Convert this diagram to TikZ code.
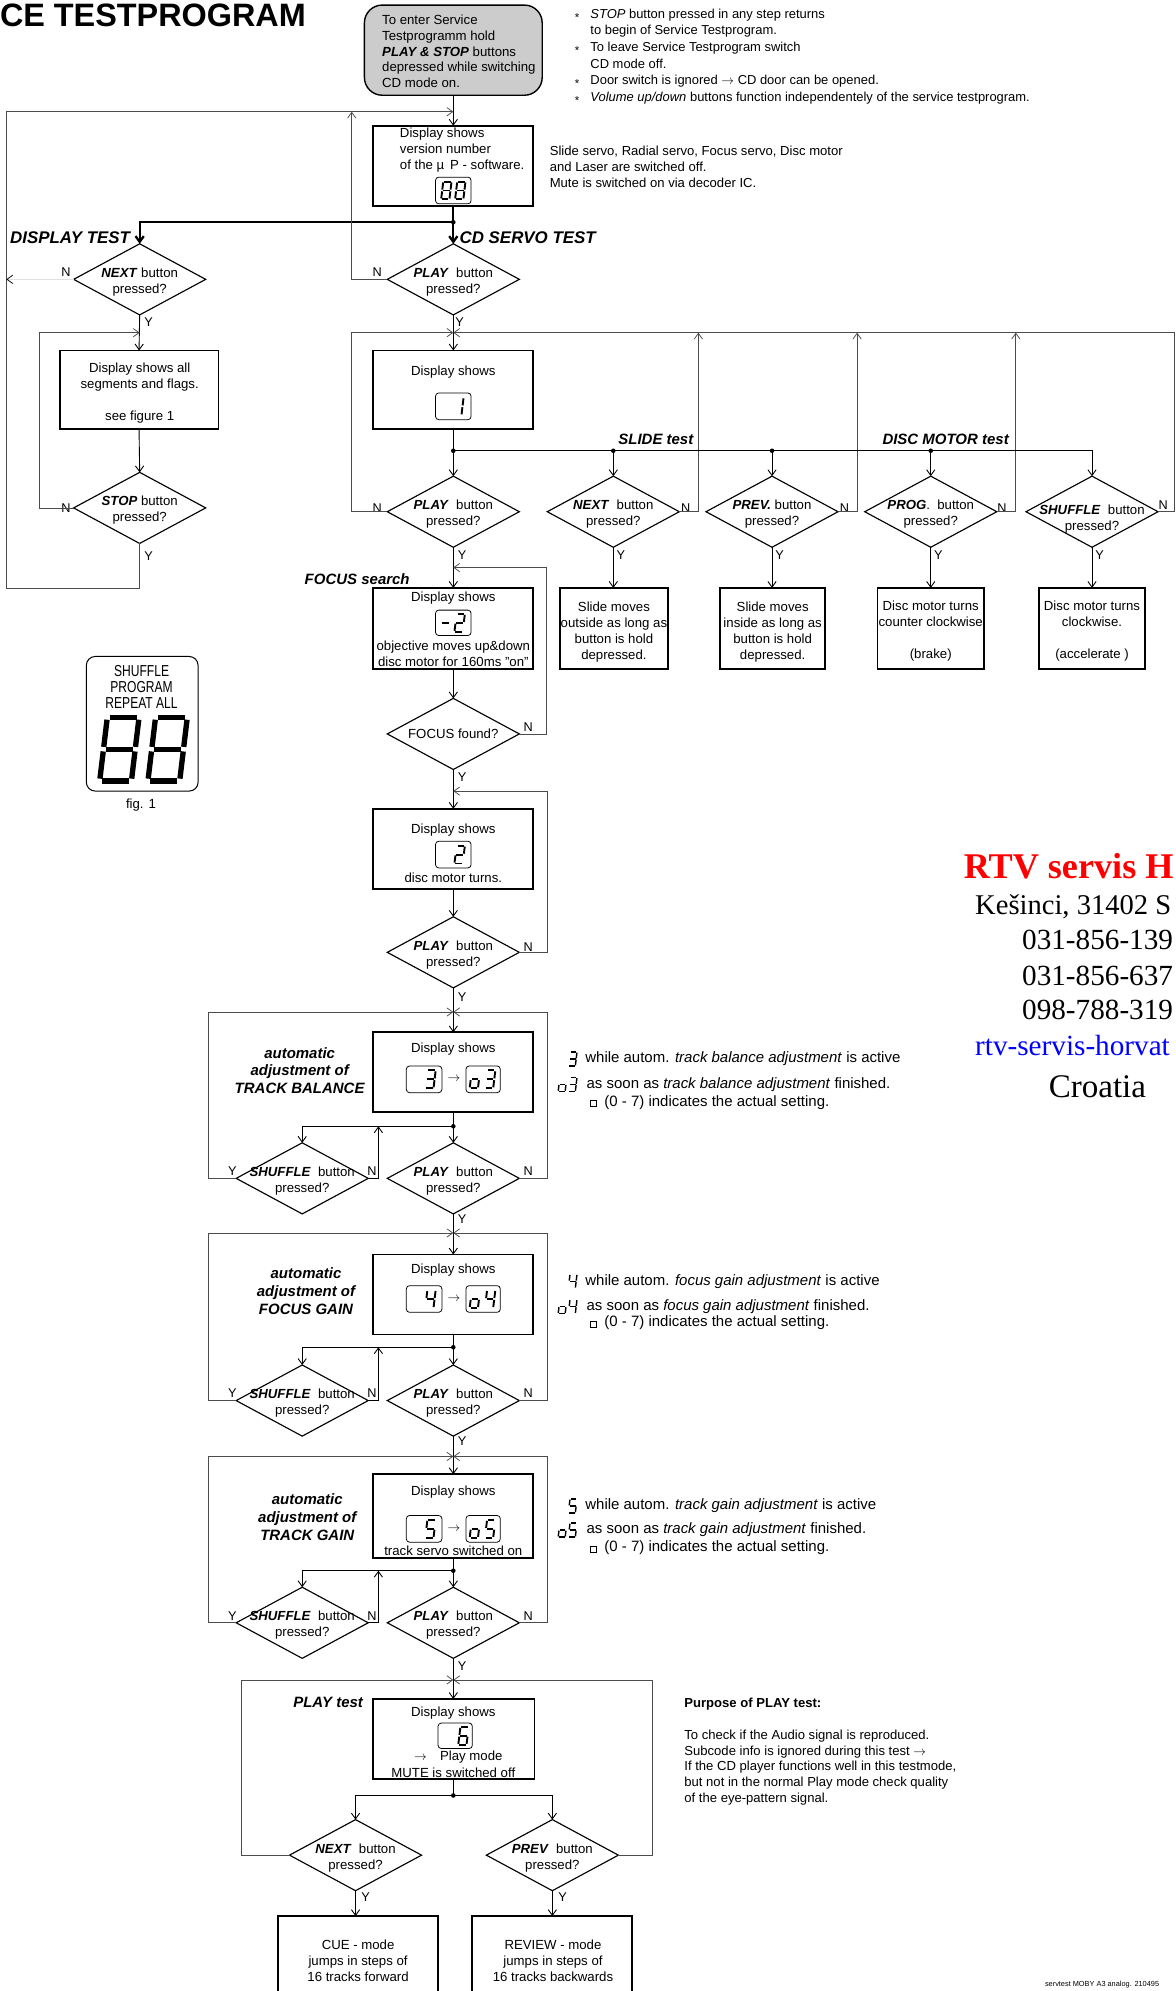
\documentclass[tikz,border=0pt]{standalone}
\usepackage{fontspec}
\setmainfont{Liberation Sans}
\newfontfamily\rtvfont{Liberation Serif}
\newfontfamily\condfont[FakeStretch=0.76]{Liberation Sans}
\usetikzlibrary{shapes.geometric,arrows.meta}
\makeatletter
\newcommand\segs[1]{%
 \in@{a}{#1}\ifin@\draw[segl](-.5,-.5)--(.5,-.5);\fi
 \in@{b}{#1}\ifin@\draw[segl](.5,-.5)--(.5,0);\fi
 \in@{c}{#1}\ifin@\draw[segl](.5,0)--(.5,.5);\fi
 \in@{d}{#1}\ifin@\draw[segl](-.5,.5)--(.5,.5);\fi
 \in@{e}{#1}\ifin@\draw[segl](-.5,0)--(-.5,.5);\fi
 \in@{f}{#1}\ifin@\draw[segl](-.5,-.5)--(-.5,0);\fi
 \in@{g}{#1}\ifin@\draw[segl](-.5,0)--(.5,0);\fi}
\makeatother
% [style]{x}{y}{w}{h}{slant}{segments}
\newcommand\dg[7][segA]{\begin{scope}[cm={#4,0,#6,#5,(#2,#3)},#1]\segs{#7}\end{scope}}
\newcommand\bi[1]{\textbf{\textit{#1}}}
\tikzset{
 segA/.style={segl/.style={line width=1.5pt,shorten <=0.7pt,shorten >=0.7pt}},
 segS/.style={segl/.style={line width=1.1pt,shorten <=0.5pt,shorten >=0.5pt}},
 segB/.style={segl/.style={line width=4.2pt,shorten <=1.8pt,shorten >=1.8pt}},
}
\begin{document}
\begin{tikzpicture}[x=1pt,y=-1pt,
  >={Straight Barb[length=4.5pt,width=6.5pt]},
  every node/.style={inner sep=0pt,outer sep=0pt},
  font=\fontsize{10.4}{12.6}\selectfont,
  box/.style={draw,line width=1.4pt,rectangle},
  dia/.style={diamond,draw,line width=0.9pt,minimum width=104pt,minimum height=56pt},
  dtxt/.style={align=center,yshift=-2pt},
  dbox/.style={draw,line width=0.6pt,rounded corners=2.5pt},
  flow/.style={line width=0.7pt},
  ret/.style={line width=0.6pt,draw=black!70},
  thk/.style={line width=1.8pt},
  dot/.style={circle,fill,minimum size=3.6pt},
  yn/.style={font=\fontsize{10}{12}\selectfont},
  lab/.style={font=\fontsize{11.8}{14}\selectfont\bfseries\itshape},
  big/.style={font=\fontsize{13.3}{15}\selectfont\bfseries\itshape},
  note/.style={font=\fontsize{11.8}{14}\selectfont,anchor=west},
  arr/.style={font=\fontsize{10}{10}\selectfont},
]
\useasboundingbox (0,0) rectangle (926,1568);

% ---------- title and notes ----------
\node[anchor=base west,font=\fontsize{25.5}{28}\selectfont\bfseries] (title) at (0,21) {CE TESTPROGRAM};

\node[box,minimum width=140,minimum height=71,rounded corners=14pt,fill=black!20,line width=1.1pt] (start) at (357,39.5) {};
\node[anchor=west,align=left,font=\fontsize{10.4}{12.3}\selectfont] (startt) at (301,40.5)
 {To enter Service\\Testprogramm hold\\\bi{PLAY \& STOP} buttons\\depressed while switching\\CD mode on.};

\node[anchor=west,align=left,font=\fontsize{10.2}{13.1}\selectfont] (topnotes) at (465,44.5)
 {\textit{STOP} button pressed in any step returns\\to begin of Service Testprogram.\\To leave Service Testprogram switch\\CD mode off.\\Door switch is ignored \(\rightarrow\) CD door can be opened.\\\textit{Volume up/down} buttons function independentely of the service testprogram.};
\node[font=\fontsize{9}{9}\selectfont] (bu1) at (454.5,14) {*};
\node[font=\fontsize{9}{9}\selectfont] (bu2) at (454.5,40) {*};
\node[font=\fontsize{9}{9}\selectfont] (bu3) at (454.5,66) {*};
\node[font=\fontsize{9}{9}\selectfont] (bu4) at (454.5,79.5) {*};

\node[anchor=west,align=left,font=\fontsize{10.3}{12.5}\selectfont] (servonote) at (433,131.5)
 {Slide servo, Radial servo, Focus servo, Disc motor\\and Laser are switched off.\\Mute is switched on via decoder IC.};

% ---------- version box ----------
\node[box,minimum width=126,minimum height=63] (vbox) at (357,130.5) {};
\node[anchor=west,align=left] (vboxt) at (315,118.5) {Display shows\\version number\\of the µ\, P - software.};
\node[dbox,minimum width=28,minimum height=21] (vdisp) at (357,150) {};
\dg{351.5}{150}{6.5}{14}{1.7}{abcdefg}
\dg{362.5}{150}{6.5}{14}{1.7}{abcdefg}

\coordinate (jTop) at (357,88);
\draw[flow,->] (start.south) -- (vbox.north);

\node[dot] (j0) at (357,175) {};
\draw[thk] (vbox.south) -- (j0.center);

\node[big,anchor=west] (lDisp) at (8,187) {DISPLAY TEST};
\node[big,anchor=west] (lCD) at (362,187) {CD SERVO TEST};

% ---------- diamonds ----------
\node[dia] (dA) at (110,220) {};
\node[dtxt] (tA) at (dA) {\bi{NEXT} button\\pressed?};
\node[dia] (dB) at (110,400) {};
\node[dtxt] (tB) at (dB) {\bi{STOP} button\\pressed?};
\node[dia] (dC) at (357,220) {};
\node[dtxt] (tC) at (dC) {\bi{PLAY}\ \ button\\pressed?};
\node[dia] (dD) at (357,403) {};
\node[dtxt] (tD) at (dD) {\bi{PLAY}\ \ button\\pressed?};
\node[dia] (dE) at (483,403) {};
\node[dtxt] (tE) at (dE) {\bi{NEXT}\ \ button\\pressed?};
\node[dia] (dF) at (608,403) {};
\node[dtxt] (tF) at (dF) {\bi{PREV.} button\\pressed?};
\node[dia] (dG) at (733,403) {};
\node[dtxt] (tG) at (dG) {\bi{PROG}.\ \ button\\pressed?};
\node[dia] (dH) at (860,403) {};
\node[dtxt,yshift=-4pt] (tH) at (dH) {\bi{SHUFFLE}\ \ button\\pressed?};
\node[dia] (dI) at (357,578) {};
\node[dtxt,yshift=2pt] (tI) at (dI) {FOCUS found?};
\node[dia] (dJ) at (357,750) {};
\node[dtxt] (tJ) at (dJ) {\bi{PLAY}\ \ button\\pressed?};
\node[dia] (dK) at (238,928) {};
\node[dtxt] (tK) at (dK) {\bi{SHUFFLE}\ \ button\\pressed?};
\node[dia] (dL) at (357,928) {};
\node[dtxt] (tL) at (dL) {\bi{PLAY}\ \ button\\pressed?};
\node[dia] (dM) at (238,1103) {};
\node[dtxt] (tM) at (dM) {\bi{SHUFFLE}\ \ button\\pressed?};
\node[dia] (dN) at (357,1103) {};
\node[dtxt] (tN) at (dN) {\bi{PLAY}\ \ button\\pressed?};
\node[dia] (dO) at (238,1278) {};
\node[dtxt] (tO) at (dO) {\bi{SHUFFLE}\ \ button\\pressed?};
\node[dia] (dP) at (357,1278) {};
\node[dtxt] (tP) at (dP) {\bi{PLAY}\ \ button\\pressed?};
\node[dia] (dQ) at (280,1461) {};
\node[dtxt] (tQ) at (dQ) {\bi{NEXT}\ \ button\\pressed?};
\node[dia] (dR) at (435,1461) {};
\node[dtxt] (tR) at (dR) {\bi{PREV}\ \ button\\pressed?};

% ---------- Y / N labels ----------
\node[yn] (nA) at (52,214) {N};  \node[yn] (yA) at (117,254) {Y};
\node[yn] (nB) at (52,400) {N};  \node[yn] (yB) at (117,438) {Y};
\node[yn] (nC) at (297,214) {N}; \node[yn] (yC) at (362,254) {Y};
\node[yn] (nD) at (297,400) {N}; \node[yn] (yD) at (364,437) {Y};
\node[yn] (nE) at (540,400) {N}; \node[yn] (yE) at (489,437) {Y};
\node[yn] (nF) at (665,400) {N}; \node[yn] (yF) at (614,437) {Y};
\node[yn] (nG) at (789,400) {N}; \node[yn] (yG) at (739,437) {Y};
\node[yn] (nH) at (916,398) {N}; \node[yn] (yH) at (866,437) {Y};
\node[yn] (nI) at (416,573) {N}; \node[yn] (yI) at (364,612) {Y};
\node[yn] (nJ) at (416,746) {N}; \node[yn] (yJ) at (364,785) {Y};
\node[yn] (yK) at (183,922) {Y}; \node[yn] (nK) at (293,922) {N};
\node[yn] (nL) at (416,922) {N}; \node[yn] (yL) at (364,960) {Y};
\node[yn] (yM) at (183,1097) {Y}; \node[yn] (nM) at (293,1097) {N};
\node[yn] (nN) at (416,1097) {N}; \node[yn] (yN) at (364,1135) {Y};
\node[yn] (yO) at (183,1273) {Y}; \node[yn] (nO) at (293,1273) {N};
\node[yn] (nP) at (416,1273) {N}; \node[yn] (yP) at (364,1312) {Y};
\node[yn] (yQ) at (288,1494) {Y};
\node[yn] (yR) at (443,1494) {Y};

% ---------- boxes ----------
\node[box,minimum width=125,minimum height=62] (bDisp) at (109.5,307) {};
\node[align=center] (bDispt) at (110,309.5) {Display shows all\\segments and flags.\\[12.6pt]see figure 1};

\node[box,minimum width=126,minimum height=62] (bOne) at (357,307) {};
\node (bOnet) at (357,293) {Display shows};
\node[dbox,minimum width=28,minimum height=21] (dispOne) at (357,320) {};
\dg{361}{320}{6.5}{14}{1.7}{bc}

\node[box,minimum width=126,minimum height=64] (bFocus) at (357,495) {};
\node (bFocust) at (357,471) {Display shows};
\node[dbox,minimum width=28,minimum height=20] (dispF) at (357,490.5) {};
\dg{351}{490.5}{6.5}{14}{1.7}{g}
\dg{362}{490.5}{6.5}{14}{1.7}{abged}
\node[align=center] (bFocust2) at (357,515) {objective moves up\&down\\disc motor for 160ms "on"};

\node[box,minimum width=85,minimum height=64] (bNx) at (483.5,495) {};
\node[align=center] (bNxt) at (483.5,498) {Slide moves\\outside as long as\\button is hold\\depressed.};
\node[box,minimum width=83,minimum height=64] (bPv) at (608.5,495) {};
\node[align=center] (bPvt) at (608.5,498) {Slide moves\\inside as long as\\button is hold\\depressed.};
\node[box,minimum width=84,minimum height=64] (bPg) at (733,495) {};
\node[align=center] (bPgt) at (733,497) {Disc motor turns\\counter clockwise\\[12.6pt](brake)};
\node[box,minimum width=84,minimum height=64] (bSh) at (860,495) {};
\node[align=center] (bSht) at (860,497) {Disc motor turns\\clockwise.\\[12.6pt](accelerate )};

\node[box,minimum width=126,minimum height=63] (bTwo) at (357,668.5) {};
\node (bTwot) at (357,653.5) {Display shows};
\node[dbox,minimum width=28,minimum height=21] (dispTwo) at (357,673) {};
\dg{362}{673}{6.5}{14}{1.7}{abged}
\node (bTwot2) at (357,691) {disc motor turns.};

% track balance
\node[box,minimum width=126,minimum height=63] (bTB) at (357,844.5) {};
\node (bTBt) at (357,826) {Display shows};
\node[dbox,minimum width=28,minimum height=21] (dTB1) at (334,850) {};
\node[dbox,minimum width=27,minimum height=21] (dTB2) at (380.5,850) {};
\node[arr] (aTB) at (357.5,850) {\(\rightarrow\)};
\dg{339}{850}{6.5}{14}{1.7}{abgcd}
\dg{374}{850}{6.5}{14}{1.7}{cdeg}
\dg{386}{850}{6.5}{14}{1.7}{abgcd}
\node[lab,align=center] (lTB) at (236,843) {automatic\\adjustment of\\TRACK BALANCE};

% focus gain
\node[box,minimum width=126,minimum height=63] (bFG) at (357,1019.5) {};
\node (bFGt) at (357,1000) {Display shows};
\node[dbox,minimum width=28,minimum height=21] (dFG1) at (334,1023) {};
\node[dbox,minimum width=27,minimum height=21] (dFG2) at (380.5,1023) {};
\node[arr] (aFG) at (357.5,1023) {\(\rightarrow\)};
\dg{339}{1023}{6.5}{14}{1.7}{fgbc}
\dg{374}{1023}{6.5}{14}{1.7}{cdeg}
\dg{386}{1023}{6.5}{14}{1.7}{fgbc}
\node[lab,align=center] (lFG) at (241,1017) {automatic\\adjustment of\\FOCUS GAIN};

% track gain
\node[box,minimum width=126,minimum height=66] (bTG) at (357,1194) {};
\node (bTGt) at (357,1175) {Display shows};
\node[dbox,minimum width=28,minimum height=21] (dTG1) at (334,1204) {};
\node[dbox,minimum width=27,minimum height=21] (dTG2) at (380.5,1204) {};
\node[arr] (aTG) at (357.5,1204) {\(\rightarrow\)};
\dg{339}{1204}{6.5}{14}{1.7}{afgcd}
\dg{374}{1204}{6.5}{14}{1.7}{cdeg}
\dg{386}{1204}{6.5}{14}{1.7}{afgcd}
\node (bTGt2) at (357,1221) {track servo switched on};
\node[lab,align=center] (lTG) at (242,1195) {automatic\\adjustment of\\TRACK GAIN};

% play test
\node[box,minimum width=127,minimum height=63] (bPT) at (357.5,1369.5) {};
\node (bPTt) at (357,1349) {Display shows};
\node[dbox,minimum width=27,minimum height=20] (dPT) at (358.5,1367) {};
\dg{365}{1367}{6.5}{14}{1.7}{afgedc}
\node (bPTt2) at (361,1384) {\(\rightarrow\)\quad Play mode};
\node (bPTt3) at (357,1396) {MUTE is switched off};

\node[box,minimum width=126,minimum height=80] (bCue) at (282,1549) {};
\node[align=center] (bCuet) at (282,1544) {CUE - mode\\jumps in steps of\\16 tracks forward};
\node[box,minimum width=126,minimum height=80] (bRev) at (435,1549) {};
\node[align=center] (bRevt) at (435.5,1544) {REVIEW - mode\\jumps in steps of\\16 tracks backwards};

% ---------- section labels ----------
\node[lab,anchor=west] (lSlide) at (487,346) {SLIDE test};
\node[lab,anchor=west] (lDisc) at (695,346) {DISC MOTOR test};
\node[lab,anchor=west] (lFocus) at (240,456) {FOCUS search};
\node[lab,anchor=west] (lPlay) at (231,1341) {PLAY test};

% ---------- connectors: top ----------
\draw[thk,->] (j0.center) -- (dC.north);
\draw[thk,->] (j0.center) -- (110,175) -- (dA.north);
\draw[ret,->] (dB.south) -- (110,463) -- (5,463) -- (5,88) -- (jTop);
\draw[ret,->] (dC.west) -- (277,220) -- (277,88);
\draw[draw=black!12,line width=0.6pt,-{Straight Barb[length=4.5pt,width=6.5pt,color=black]}] (dA.west) -- (5,220);

% display test
\coordinate (jD) at (110,262);
\draw[flow,->] (dA.south) -- (bDisp.north);
\draw[ret,->] (dB.west) -- (31,400) -- (31,262) -- (jD);
\draw[flow,->] (bDisp.south) -- (dB.north);

% cd servo
\coordinate (jC) at (357,262);
\draw[flow,->] (dC.south) -- (bOne.north);
\draw[ret,->] (dD.west) -- (277,403) -- (277,262) -- (jC);
\draw[ret,->] (dH.east) -- (925,403) -- (925,262) -- (jC);
\draw[ret,->] (dE.east) -- (550,403) -- (550,262);
\draw[ret,->] (dF.east) -- (675,403) -- (675,262);
\draw[ret,->] (dG.east) -- (800,403) -- (800,262);

\node[dot] (r0) at (357,355) {};
\node[dot] (r1) at (483,355) {};
\node[dot] (r2) at (608,355) {};
\node[dot] (r3) at (733,355) {};
\draw[flow] (bOne.south) -- (r0.center);
\draw[flow,->] (r0.center) -- (860,355) -- (dH.north);
\draw[flow,->] (r0.center) -- (dD.north);
\draw[flow,->] (r1.center) -- (dE.north);
\draw[flow,->] (r2.center) -- (dF.north);
\draw[flow,->] (r3.center) -- (dG.north);
\draw[flow,->] (dE.south) -- (dE.south |- bNx.north);
\draw[flow,->] (dF.south) -- (dF.south |- bPv.north);
\draw[flow,->] (dG.south) -- (bPg.north);
\draw[flow,->] (dH.south) -- (bSh.north);

% focus
\coordinate (jF) at (357,447);
\coordinate (jF2) at (357,623);
\draw[flow,->] (dD.south) -- (bFocus.north);
\draw[ret,->] (dI.east) -- (430,578) -- (430,447) -- (jF);
\draw[flow,->] (bFocus.south) -- (dI.north);
\draw[flow,->] (dI.south) -- (bTwo.north);
\draw[ret,->] (dJ.east) -- (431,750) -- (431,623) -- (jF2);
\draw[flow,->] (bTwo.south) -- (dJ.north);
\draw[flow,->] (dJ.south) -- (bTB.north);

% track balance block
\coordinate (jT1) at (357,797);
\draw[ret,->] (dK.west) -- (164,928) -- (164,797) -- (jT1);
\draw[ret,->] (dL.east) -- (431,928) -- (431,797) -- (jT1);
\node[dot] (t1) at (357,887) {};
\draw[flow] (bTB.south) -- (t1.center);
\draw[flow,->] (t1.center) -- (dL.north);
\draw[flow,->] (t1.center) -- (238,887) -- (dK.north);
\draw[flow,->] (dK.east) -- (298,928) -- (298,887);
\draw[flow,->] (dL.south) -- (bFG.north);

% focus gain block
\coordinate (jT2) at (357,971);
\draw[ret,->] (dM.west) -- (164,1103) -- (164,971) -- (jT2);
\draw[ret,->] (dN.east) -- (431,1103) -- (431,971) -- (jT2);
\node[dot] (t2) at (357,1061) {};
\draw[flow] (bFG.south) -- (t2.center);
\draw[flow,->] (t2.center) -- (dN.north);
\draw[flow,->] (t2.center) -- (238,1061) -- (dM.north);
\draw[flow,->] (dM.east) -- (298,1103) -- (298,1061);
\draw[flow,->] (dN.south) -- (bTG.north);

% track gain block
\coordinate (jT3) at (357,1147);
\draw[ret,->] (dO.west) -- (164,1278) -- (164,1147) -- (jT3);
\draw[ret,->] (dP.east) -- (431,1278) -- (431,1147) -- (jT3);
\node[dot] (t3) at (357,1237) {};
\draw[flow] (bTG.south) -- (t3.center);
\draw[flow,->] (t3.center) -- (dP.north);
\draw[flow,->] (t3.center) -- (238,1237) -- (dO.north);
\draw[flow,->] (dO.east) -- (298,1278) -- (298,1237);
\draw[flow,->] (dP.south) -- (dP.south |- bPT.north);

% play test block
\coordinate (jP) at (357,1323);
\draw[ret,->] (dQ.west) -- (190,1461) -- (190,1323) -- (jP);
\draw[ret,->] (dR.east) -- (514,1461) -- (514,1323) -- (jP);
\node[dot] (p1) at (357,1414) {};
\draw[flow] (bPT.south -| p1) -- (p1.center);
\draw[flow,->] (p1.center) -- (280,1414) -- (dQ.north);
\draw[flow,->] (p1.center) -- (435,1414) -- (dR.north);
\draw[flow,->] (dQ.south) -- (dQ.south |- bCue.north);
\draw[flow,->] (dR.south) -- (dR.south |- bRev.north);

% ---------- side notes ----------
\dg[segS]{451}{834}{5.5}{11}{1.3}{abgcd}
\node[note] (sTB1) at (461,834) {while autom. \textit{track balance adjustment} is active};
\dg[segS]{443}{854}{5.5}{11}{1.3}{cdeg}
\dg[segS]{451}{854}{5.5}{11}{1.3}{abgcd}
\node[note] (sTB2) at (462,854) {as soon as \textit{track balance adjustment} finished.};
\node[draw,line width=0.5pt,minimum size=4.5pt] (qTB) at (467,869) {};
\node[note] (sTB3) at (476,868) {(0 - 7) indicates the actual setting.};

\dg[segS]{451}{1009}{5.5}{11}{1.3}{fgbc}
\node[note] (sFG1) at (461,1009) {while autom. \textit{focus gain adjustment} is active};
\dg[segS]{443}{1029}{5.5}{11}{1.3}{cdeg}
\dg[segS]{451}{1029}{5.5}{11}{1.3}{fgbc}
\node[note] (sFG2) at (462,1029) {as soon as \textit{focus gain adjustment} finished.};
\node[draw,line width=0.5pt,minimum size=4.5pt] (qFG) at (467,1043) {};
\node[note] (sFG3) at (476,1042) {(0 - 7) indicates the actual setting.};

\dg[segS]{451}{1186}{5.5}{11}{1.3}{afgcd}
\node[note] (sTG1) at (461,1186) {while autom. \textit{track gain adjustment} is active};
\dg[segS]{443}{1205}{5.5}{11}{1.3}{cdeg}
\dg[segS]{451}{1205}{5.5}{11}{1.3}{afgcd}
\node[note] (sTG2) at (462,1205) {as soon as \textit{track gain adjustment} finished.};
\node[draw,line width=0.5pt,minimum size=4.5pt] (qTG) at (467,1220) {};
\node[note] (sTG3) at (476,1219) {(0 - 7) indicates the actual setting.};

% ---------- purpose ----------
\node[anchor=west,font=\fontsize{10.3}{12.5}\selectfont\bfseries] (purp) at (539,1342) {Purpose of PLAY test:};
\node[anchor=west,align=left,font=\fontsize{10.3}{12.5}\selectfont] (purpt) at (539,1392)
 {To check if the Audio signal is reproduced.\\Subcode info is ignored during this test \(\rightarrow\)\\If the CD player functions well in this testmode,\\but not in the normal Play mode check quality\\of the eye-pattern signal.};
\node[anchor=west,font=\fontsize{5.8}{6}\selectfont] (foot) at (823,1563) {servtest MOBY A3 analog. 210495};

% ---------- fig 1 ----------
\node[draw,line width=0.8pt,rounded corners=7pt,minimum width=88,minimum height=106] (fig) at (112,570) {};
\node[align=center,font=\condfont\fontsize{12.5}{12.6}\selectfont] (figt) at (111.5,541) {SHUFFLE\\PROGRAM\\REPEAT ALL};
\dg[segB]{94}{590}{25}{50}{6}{abcdefg}
\dg[segB]{132}{590}{25}{50}{6}{abcdefg}
\node (figcap) at (111,634) {fig. 1};

% ---------- RTV block ----------
\node[anchor=base west,font=\rtvfont\fontsize{28.5}{30}\selectfont\bfseries,text=red] (rtv1) at (759,692) {RTV servis H};
\node[anchor=base west,font=\rtvfont\fontsize{22.5}{25}\selectfont] (rtv2) at (768,720) {Kešinci, 31402 S};
\node[anchor=base west,font=\rtvfont\fontsize{23}{25}\selectfont] (rtv3) at (805,748) {031-856-139};
\node[anchor=base west,font=\rtvfont\fontsize{23}{25}\selectfont] (rtv4) at (805,776) {031-856-637};
\node[anchor=base west,font=\rtvfont\fontsize{23}{25}\selectfont] (rtv5) at (805,803) {098-788-319};
\node[anchor=base west,font=\rtvfont\fontsize{23}{25}\selectfont,text=blue] (rtv6) at (768,831) {rtv-servis-horvat};
\node[anchor=base west,font=\rtvfont\fontsize{26}{28}\selectfont] (rtv7) at (826,864) {Croatia};
\end{tikzpicture}
\end{document}
